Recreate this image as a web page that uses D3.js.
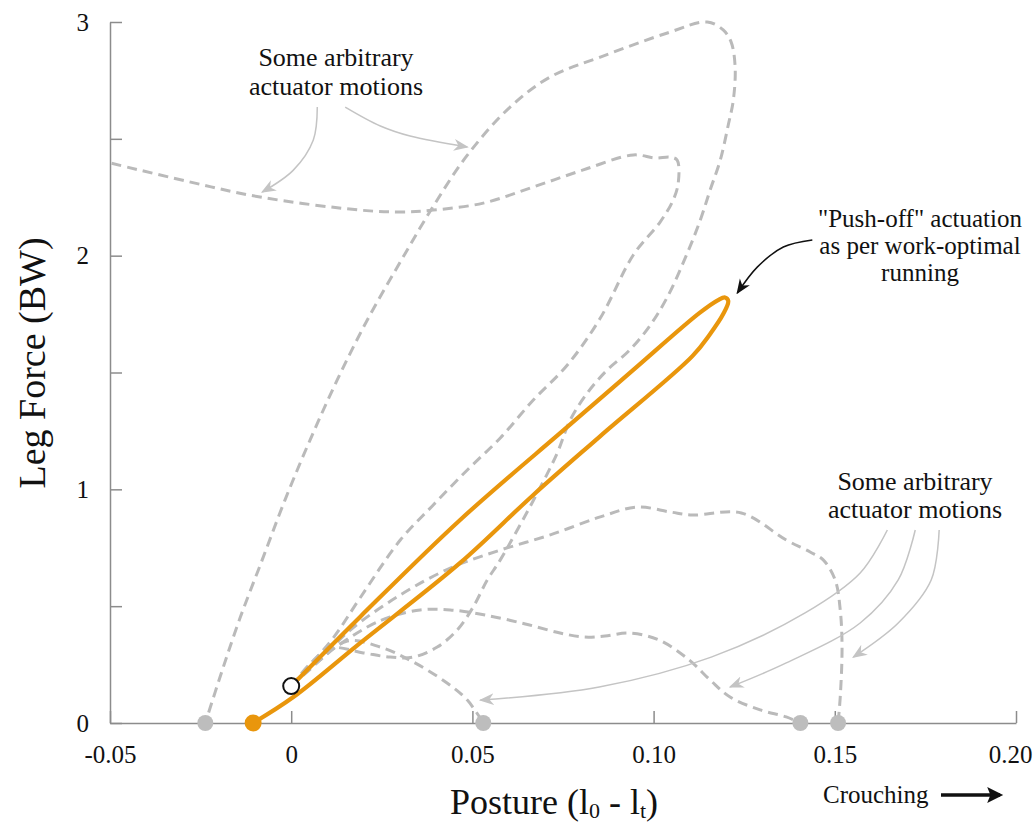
<!DOCTYPE html>
<html>
<head>
<meta charset="utf-8">
<script src="https://cdn.jsdelivr.net/npm/d3@7"></script>
<style>
  body { margin: 0; background: #fff; }
  svg text { font-family: "Liberation Serif", "Times New Roman", serif; fill: #111; }
  .axis path, .axis line { stroke: #8c8c8c; stroke-width: 1.5; }
  .axis text { font-size: 25px; }
</style>
</head>
<body>
<div id="chart"></div>
<script>
// axis ticks
const xTicks = [-0.05, 0, 0.05, 0.10, 0.15, 0.20];
const xTickLabels = ["-0.05", "0", "0.05", "0.10", "0.15", "0.20"];
const yTicks = [0, 0.5, 1, 1.5, 2, 2.5, 3];
const yTickLabels = ["0", "", "1", "", "2", "", "3"];

// work-optimal push-off loop (posture, leg force)
const pushOff = [
  [0, 0.158], [0.019, 0.454], [0.0466, 0.869], [0.0762, 1.267], [0.0944, 1.511],
  [0.1126, 1.754], [0.1178, 1.810], [0.1197, 1.821], [0.1206, 1.806], [0.1192, 1.750],
  [0.1156, 1.665], [0.1107, 1.570], [0.0853, 1.228], [0.0668, 0.976], [0.0466, 0.685],
  [0.019, 0.342], [0.0006, 0.111], [-0.0105, 0]
];

// arbitrary actuator motions
const motionA = [
  [0, 0.158], [0.0052, 0.253], [0.0108, 0.321], [0.0199, 0.300], [0.0273, 0.282],
  [0.0337, 0.282], [0.0403, 0.325], [0.0458, 0.398], [0.0502, 0.496], [0.0541, 0.612],
  [0.0577, 0.698], [0.0679, 0.984], [0.0734, 1.155], [0.0770, 1.297], [0.0817, 1.412],
  [0.0872, 1.511], [0.0930, 1.590], [0.0985, 1.690], [0.1038, 1.823], [0.1093, 2.011],
  [0.1129, 2.153], [0.1156, 2.281], [0.1184, 2.409], [0.1206, 2.559], [0.1220, 2.666],
  [0.1225, 2.807], [0.1214, 2.914], [0.1192, 2.966], [0.1148, 3.000], [0.1038, 2.953],
  [0.0853, 2.850], [0.0715, 2.765], [0.0604, 2.636], [0.0486, 2.430], [0.0389, 2.204],
  [0.0301, 1.973], [0.0210, 1.725], [0.0127, 1.468], [0.0052, 1.211], [-0.0017, 0.955],
  [-0.0080, 0.698], [-0.0141, 0.450], [-0.0190, 0.227], [-0.0237, 0]
];
const motionB = [
  [0, 0.158], [0.0052, 0.248], [0.0116, 0.364], [0.0190, 0.535], [0.0301, 0.783],
  [0.0392, 0.933], [0.0486, 1.083], [0.0577, 1.220], [0.0668, 1.382], [0.0762, 1.532],
  [0.0853, 1.733], [0.0944, 2.003], [0.1018, 2.144], [0.1054, 2.238], [0.1068, 2.311],
  [0.1065, 2.409], [0.1046, 2.422], [0.1004, 2.418], [0.0944, 2.431], [0.0806, 2.367],
  [0.0668, 2.294], [0.0530, 2.225], [0.0392, 2.195], [0.0301, 2.187], [0.0190, 2.195],
  [-0.0086, 2.251], [-0.0292, 2.320], [-0.05, 2.397]
];
const motionC = [
  [0, 0.158], [0.0094, 0.291], [0.0210, 0.411], [0.0273, 0.454], [0.0356, 0.484],
  [0.0439, 0.484], [0.0535, 0.462], [0.0646, 0.424], [0.0742, 0.385], [0.0808, 0.368],
  [0.0866, 0.372], [0.0933, 0.385], [0.1015, 0.355], [0.1098, 0.270], [0.1156, 0.184],
  [0.1211, 0.111], [0.1294, 0.056], [0.1366, 0.026], [0.1405, 0]
];
const motionD = [
  [0, 0.158], [0.0080, 0.270], [0.0163, 0.398], [0.0301, 0.548], [0.0439, 0.663],
  [0.0577, 0.740], [0.0715, 0.805], [0.0853, 0.882], [0.0955, 0.924], [0.1046, 0.903],
  [0.1107, 0.890], [0.1242, 0.899], [0.1366, 0.783], [0.1432, 0.732], [0.1468, 0.698],
  [0.1501, 0.612], [0.1515, 0.484], [0.1520, 0.325], [0.1515, 0.111], [0.1509, 0]
];
const motionE = [
  [0, 0.158], [0.0080, 0.270], [0.0155, 0.351], [0.0246, 0.325], [0.0337, 0.261],
  [0.0430, 0.171], [0.0486, 0.098], [0.0530, 0]
];

const startPoint = [0, 0.158];
const grayEnds = [-0.0237, 0.0530, 0.1405, 0.1509];
const pushEnd = -0.0105;

const W = 1035, H = 827;
const svg = d3.select('#chart').append('svg').attr('width', W).attr('height', H);

const x = d3.scaleLinear().domain([-0.05, 0.20]).range([110, 1016]);
const y = d3.scaleLinear().domain([0, 3]).range([723, 22]);

const defs = svg.append('defs');
function marker(id, color, size) {
  defs.append('marker').attr('id', id).attr('viewBox', '0 0 10 10')
    .attr('refX', 9).attr('refY', 5).attr('markerUnits', 'userSpaceOnUse')
    .attr('markerWidth', size).attr('markerHeight', size).attr('orient', 'auto')
    .append('path').attr('d', 'M0,1 L10,5 L0,9 L3,5 Z').attr('fill', color);
}
marker('headGray', '#c4c4c4', 15);
marker('headBlack', '#111', 15);
defs.append('marker').attr('id', 'headBig').attr('viewBox', '0 0 10 10')
  .attr('refX', 8).attr('refY', 5).attr('markerUnits', 'userSpaceOnUse')
  .attr('markerWidth', 18).attr('markerHeight', 16).attr('orient', 'auto')
  .append('path').attr('d', 'M0,0 L10,5 L0,10 L2,5 Z').attr('fill', '#111');

// axes
const xAxis = d3.axisBottom(x).tickValues(xTicks).tickFormat((d, i) => xTickLabels[i])
  .tickSizeInner(-12).tickSizeOuter(0).tickPadding(22);
const gx = svg.append('g').attr('class', 'axis').attr('transform', `translate(0,${y(0)})`).call(xAxis);
gx.selectAll('.tick text').filter(d => d === 0.20).attr('dx', -6);

const yAxis = d3.axisLeft(y).tickValues(yTicks).tickFormat((d, i) => yTickLabels[i])
  .tickSizeInner(-12).tickSizeOuter(0).tickPadding(21);
svg.append('g').attr('class', 'axis').attr('transform', `translate(${x(-0.05)},0)`).call(yAxis);

// curves
const line = d3.line().x(d => x(d[0])).y(d => y(d[1])).curve(d3.curveCatmullRom.alpha(0.5));
[motionA, motionB, motionC, motionD, motionE].forEach(m => {
  svg.append('path').attr('d', line(m)).attr('fill', 'none')
    .attr('stroke', '#bababa').attr('stroke-width', 3).attr('stroke-dasharray', '10,6');
});
svg.append('path').attr('d', line(pushOff)).attr('fill', 'none')
  .attr('stroke', '#e9960c').attr('stroke-width', 4.2).attr('stroke-linejoin', 'round');

svg.selectAll('.gdot').data(grayEnds).enter().append('circle')
  .attr('cx', d => x(d)).attr('cy', y(0)).attr('r', 8).attr('fill', '#bdbdbd');
svg.append('circle').attr('cx', x(pushEnd)).attr('cy', y(0)).attr('r', 8.5).attr('fill', '#e9960c');
svg.append('circle').attr('cx', x(startPoint[0])).attr('cy', y(startPoint[1])).attr('r', 8)
  .attr('fill', '#fff').attr('stroke', '#111').attr('stroke-width', 2);

// annotations
const aLine = d3.line().x(d => x(d[0])).y(d => y(d[1])).curve(d3.curveCatmullRom.alpha(0.5));
const grayArrows = [
  [[0.0072, 2.636], [0.0061, 2.495], [0.0006, 2.366], [-0.0080, 2.272]],
  [[0.0149, 2.636], [0.0246, 2.555], [0.0328, 2.512], [0.0486, 2.465]],
  [[0.1645, 0.826], [0.1570, 0.642], [0.1418, 0.471], [0.1159, 0.282], [0.0850, 0.154], [0.0522, 0.098]],
  [[0.1722, 0.826], [0.1675, 0.612], [0.1570, 0.428], [0.1366, 0.257], [0.1211, 0.154]],
  [[0.1788, 0.826], [0.1766, 0.612], [0.1675, 0.428], [0.1551, 0.282]]
];
grayArrows.forEach(a => {
  svg.append('path').attr('d', aLine(a)).attr('fill', 'none').attr('stroke', '#c4c4c4')
    .attr('stroke-width', 1.5).attr('marker-end', 'url(#headGray)');
});
svg.append('path').attr('d', aLine([[0.1438, 2.067], [0.1358, 2.037], [0.1286, 1.951], [0.1231, 1.840]]))
  .attr('fill', 'none').attr('stroke', '#111').attr('stroke-width', 1.5).attr('marker-end', 'url(#headBlack)');

function label(lines, cx, y0, step, size) {
  const t = svg.append('text').attr('text-anchor', 'middle').style('font-size', size + 'px');
  lines.forEach((s, i) => t.append('tspan').attr('x', cx).attr('y', y0 + i * step).text(s));
}
label(['Some arbitrary', 'actuator motions'], 336, 66, 29, 26);
label(['Some arbitrary', 'actuator motions'], 915, 490, 28, 26);
label(['"Push-off" actuation', 'as per work-optimal', 'running'], 920, 227, 27, 25);

svg.append('text').attr('x', 823).attr('y', 803).style('font-size', '25px').text('Crouching');
svg.append('line').attr('x1', 941).attr('y1', 795).attr('x2', 1000).attr('y2', 795)
  .attr('stroke', '#111').attr('stroke-width', 3.5).attr('marker-end', 'url(#headBig)');

// axis titles
svg.append('text').attr('transform', 'translate(45,363) rotate(-90)').attr('text-anchor', 'middle')
  .style('font-size', '38px').text('Leg Force (BW)');
const xt = svg.append('text').attr('x', 554).attr('y', 814).attr('text-anchor', 'middle').style('font-size', '36px');
xt.append('tspan').text('Posture (l');
xt.append('tspan').attr('baseline-shift', '-18%').style('font-size', '22px').text('0');
xt.append('tspan').text(' - l');
xt.append('tspan').attr('baseline-shift', '-18%').style('font-size', '22px').text('t');
xt.append('tspan').text(')');
</script>
</body>
</html>
